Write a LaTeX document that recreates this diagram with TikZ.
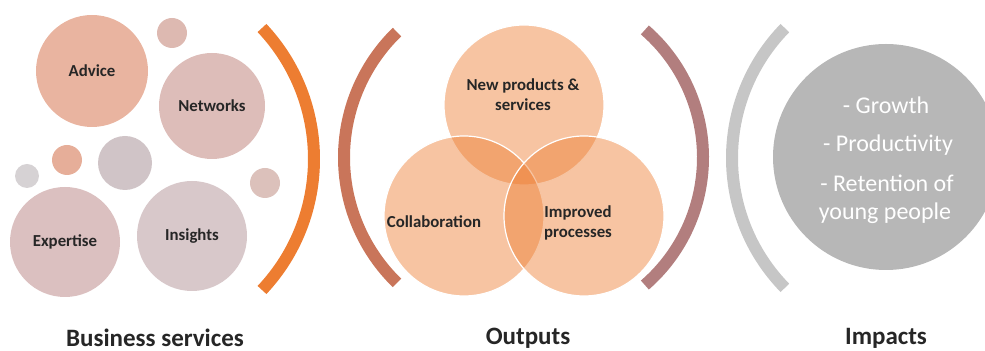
\documentclass[tikz,border=0pt]{standalone}
\usepackage{fontspec}
\setmainfont{Carlito}

\definecolor{cAdvice}{HTML}{E9B4A0}
\definecolor{cNetwork}{HTML}{DDBDB9}
\definecolor{cExpert}{HTML}{DBC0C0}
\definecolor{cInsight}{HTML}{D8C8CA}
\definecolor{cDotA}{HTML}{DDB9B1}
\definecolor{cDotB}{HTML}{E6AE99}
\definecolor{cDotC}{HTML}{D0C4C7}
\definecolor{cDotD}{HTML}{D6D2D4}
\definecolor{cDotE}{HTML}{DCC1BB}
\definecolor{cOrange}{HTML}{ED7D31}
\definecolor{cBrown}{HTML}{C9755A}
\definecolor{cRose}{HTML}{B27E7E}
\definecolor{cLight}{HTML}{C6C6C6}
\definecolor{cImpact}{HTML}{B7B7B7}
\definecolor{txtdark}{HTML}{262626}

\begin{document}
\begin{tikzpicture}[x=0.5pt,y=-0.5pt,
  bubble/.style={circle, inner sep=0pt, text=txtdark, font=\bfseries\fontsize{8.4}{10}\selectfont},
  venn/.style={fill=cOrange, fill opacity=0.45, draw=white, draw opacity=1, line width=0.6pt},
  vennlabel/.style={text=txtdark, align=center, font=\bfseries\fontsize{8.4}{10}\selectfont},
  bracket/.style={line width=6pt},
  impact/.style={text=white, font=\fontsize{12}{14}\selectfont},
  title/.style={text=txtdark, font=\bfseries\fontsize{12.5}{15}\selectfont}]
\useasboundingbox (0,0) rectangle (985,351);

% business services
\node[bubble, minimum size=56pt, fill=cAdvice] (advice) at (92,71) {Advice};
\node[bubble, minimum size=15pt, fill=cDotA] (dot1) at (172,33) {};
\node[bubble, minimum size=53pt, fill=cNetwork] (networks) at (212,106) {Networks};
\node[bubble, minimum size=15pt, fill=cDotB] (dot2) at (67,160) {};
\node[bubble, minimum size=27pt, fill=cDotC] (dot3) at (125,163) {};
\node[bubble, minimum size=12pt, fill=cDotD] (dot4) at (27,176) {};
\node[bubble, minimum size=15pt, fill=cDotE] (dot5) at (265,183) {};
\node[bubble, minimum size=55pt, fill=cExpert] (expertise) at (65,242) {Expertise};
\node[bubble, minimum size=55pt, fill=cInsight] (insights) at (192,236) {Insights};

\draw[bracket, cOrange] (123,159) ++(-43.3:191) arc[start angle=-43.3, end angle=43.3, radius=191];

% outputs
\draw[bracket, cBrown] (519,157.5) ++(134.2:175) arc[start angle=134.2, end angle=225.8, radius=175];
\fill[venn] (524,105) circle (80);
\fill[venn] (464,216) circle (80);
\fill[venn] (584,216) circle (80);
\node[vennlabel] (newprod) at (523,95) {New products \&\\services};
\node[vennlabel] (collab) at (434,222) {Collaboration};
\node[vennlabel] (improved) at (578,223) {Improved\\processes};
\draw[bracket, cRose] (534,157.5) ++(-49:169) arc[start angle=-49, end angle=49, radius=169];

% impacts
\draw[bracket, cLight] (918,158) ++(135.7:186) arc[start angle=135.7, end angle=224.3, radius=186];
\node[circle, minimum size=113pt, fill=cImpact] (impactcirc) at (886,157) {};
\node[impact] (growth) at (886,105) {- Growth};
\node[impact] (product) at (888,145) {- Productivity};
\node[impact] (retain) at (887,183) {- Retention of};
\node[impact] (young) at (885,213) {young people};

\node[title] (busi) at (155,338) {Business services};
\node[title] (outp) at (528,338) {Outputs};
\node[title] (impa) at (886,338) {Impacts};
\end{tikzpicture}
\end{document}
